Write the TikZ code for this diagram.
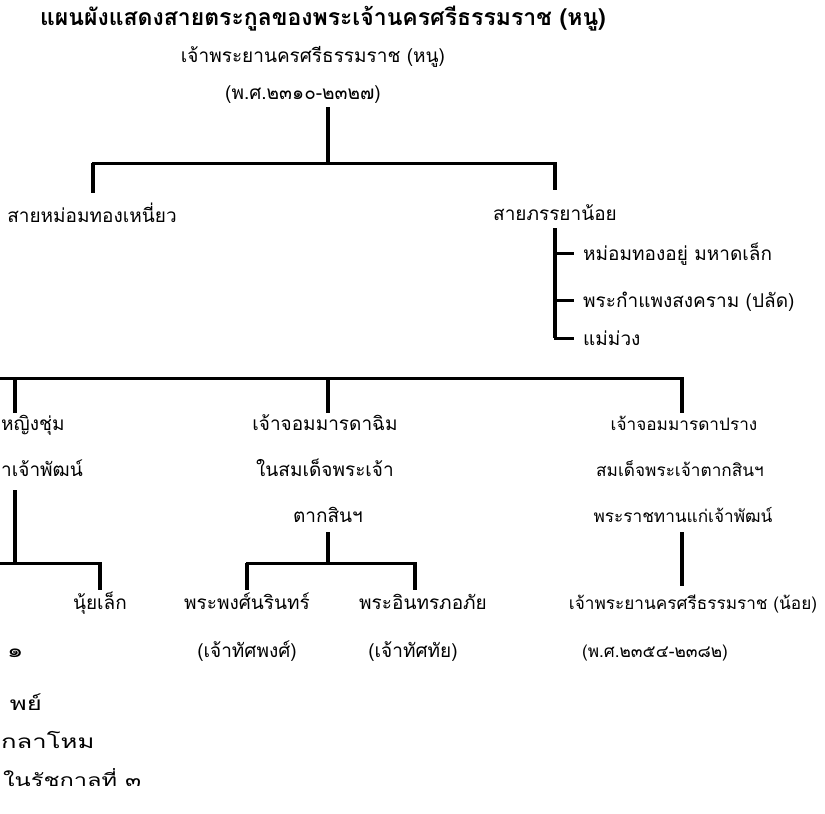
\documentclass[tikz,border=0pt]{standalone}
\usepackage{fontspec}
\newfontfamily\thai[Script=Thai]{Loma}
\newfontfamily\thaiwide[Script=Thai,FakeStretch=1.35]{Loma}
\begin{document}
\begin{tikzpicture}[x=1pt,y=-1pt,
  lbl/.style={font=\thai\fontsize{19}{19}\selectfont, inner sep=0pt, anchor=base},
  rlbl/.style={font=\thai\fontsize{17.2}{17.2}\selectfont, inner sep=0pt, anchor=base},
  sml/.style={font=\thaiwide\fontsize{19}{19}\selectfont, inner sep=0pt, anchor=base east},
  ttl/.style={font=\thai\bfseries\fontsize{23}{23}\selectfont, inner sep=0pt, anchor=base},
  link/.style={line width=3pt, line join=miter, line cap=rect},
  dropline/.style={line width=4pt, line cap=butt}]
\useasboundingbox (0,0) rectangle (825,814);
\clip (0,0) rectangle (825,814);
% texts
\node[ttl] (title) at (323,25) {แผนผังแสดงสายตระกูลของพระเจ้านครศรีธรรมราช (หนู)};
\node[lbl] (root) at (313,62) {เจ้าพระยานครศรีธรรมราช (หนู)};
\node[lbl] (rootd) at (303,99) {(พ.ศ.๒๓๑๐-๒๓๒๗)};
\node[lbl] (sline1) at (92,222) {สายหม่อมทองเหนี่ยว};
\node[lbl] (sline2) at (555,220) {สายภรรยาน้อย};
\node[lbl, anchor=base west] (c1) at (583,260) {หม่อมทองอยู่ มหาดเล็ก};
\node[lbl, anchor=base west] (c2) at (583,307) {พระกำแพงสงคราม (ปลัด)};
\node[lbl, anchor=base west] (c3) at (583,345) {แม่ม่วง};
\node[lbl, anchor=base west] (chum) at (1,430) {หญิงชุ่ม};
\node[lbl, anchor=base west] (chumb) at (1,476) {าเจ้าพัฒน์};
\node[lbl] (chim) at (325,430) {เจ้าจอมมารดาฉิม};
\node[lbl] (chimb) at (325,476) {ในสมเด็จพระเจ้า};
\node[lbl] (chimc) at (328,522) {ตากสินฯ};
\node[rlbl] (prang) at (684,430) {เจ้าจอมมารดาปราง};
\node[rlbl] (prangb) at (680,476) {สมเด็จพระเจ้าตากสินฯ};
\node[rlbl] (prangc) at (683,522) {พระราชทานแก่เจ้าพัฒน์};
\node[lbl] (nui) at (100,609) {นุ้ยเล็ก};
\node[lbl] (phong) at (247,609) {พระพงศ์นรินทร์};
\node[lbl] (phongb) at (247,657) {(เจ้าทัศพงศ์)};
\node[lbl] (in) at (423,609) {พระอินทรภอภัย};
\node[lbl] (inb) at (413,657) {(เจ้าทัศทัย)};
\node[rlbl] (noi) at (693,609) {เจ้าพระยานครศรีธรรมราช (น้อย)};
\node[rlbl] (noib) at (655,657) {(พ.ศ.๒๓๕๔-๒๓๘๒)};
\node[sml, anchor=base west] (one) at (7,657) {๑};
\node[sml] (ta) at (42,710) {พย์};
\node[sml, anchor=base west] (tb) at (1,748) {กลาโหม};
\node[sml, anchor=base west, font=\thaiwide\fontsize{17.5}{17.5}\selectfont] (tc) at (3,786) {ในรัชกาลที่ ๓};
% junction coordinates
\coordinate (a0) at (328,107);
\coordinate (a1) at (328,163);
\coordinate (a2) at (93,163);
\coordinate (a3) at (93,193);
\coordinate (a4) at (555,163);
\coordinate (a5) at (555,190);
\coordinate (b0) at (555,228);
\coordinate (b1) at (555,253);
\coordinate (b2) at (555,300);
\coordinate (b3) at (555,338);
\coordinate (b1e) at (572,253);
\coordinate (b2e) at (572,300);
\coordinate (b3e) at (572,338);
\coordinate (l0) at (0,378);
\coordinate (l1) at (15,378);
\coordinate (l2) at (328,378);
\coordinate (l3) at (682,378);
\coordinate (l1d) at (15,413);
\coordinate (l2d) at (328,413);
\coordinate (l3d) at (682,413);
\coordinate (m0) at (15,490);
\coordinate (m1) at (15,563);
\coordinate (m2) at (0,563);
\coordinate (m3) at (100,563);
\coordinate (m4) at (100,590);
\coordinate (n0) at (328,532);
\coordinate (n1) at (328,563);
\coordinate (n2) at (247,563);
\coordinate (n3) at (415,563);
\coordinate (n2d) at (247,590);
\coordinate (n3d) at (415,590);
\coordinate (p0) at (682,532);
\coordinate (p1) at (682,586);
% horizontal connectors
\draw[link] (a2) -- (a4);
\draw[link] (l0) -- (l3);
\draw[link] (b1) -- (b1e);
\draw[link] (b2) -- (b2e);
\draw[link] (b3) -- (b3e);
\draw[link] (m2) -- (m3);
\draw[link] (n2) -- (n3);
% vertical connectors
\draw[dropline] (a0) -- (a1);
\draw[dropline] (a2) -- (a3);
\draw[dropline] (a4) -- (a5);
\draw[dropline] (b0) -- (b3);
\draw[dropline] (l1) -- (l1d);
\draw[dropline] (l2) -- (l2d);
\draw[dropline] (l3) -- (l3d);
\draw[dropline] (m0) -- (m1);
\draw[dropline] (m3) -- (m4);
\draw[dropline] (n0) -- (n1);
\draw[dropline] (n2) -- (n2d);
\draw[dropline] (n3) -- (n3d);
\draw[dropline] (p0) -- (p1);
\end{tikzpicture}
\end{document}
